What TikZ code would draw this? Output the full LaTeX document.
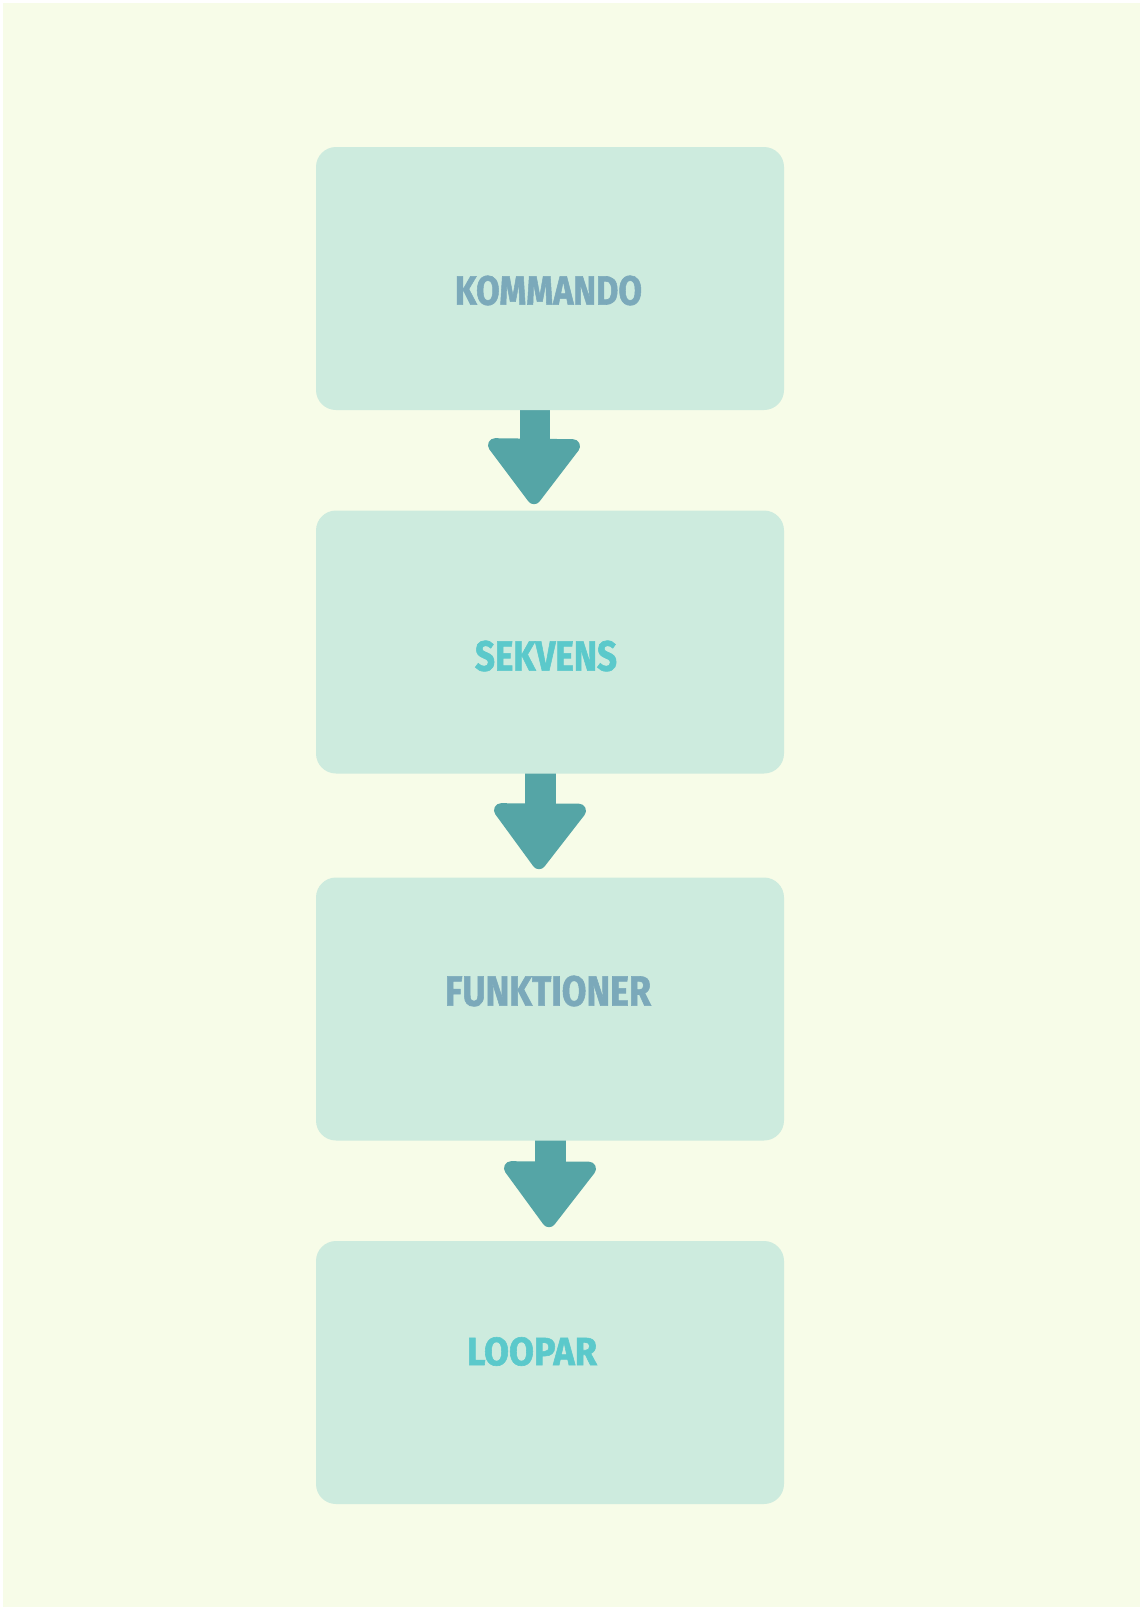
\documentclass[tikz,border=0pt]{standalone}
\usepackage{fontspec}
\setmainfont{Fira Sans}
\newfontfamily\lblfont{Fira Sans}[UprightFont=* Bold, FakeBold=1.5]
\usetikzlibrary{calc}
\definecolor{bgc}{HTML}{F7FCE8}
\definecolor{boxc}{HTML}{CDEBDE}
\definecolor{arrc}{HTML}{55A5A6}
\definecolor{txtA}{HTML}{7BA9BA}
\definecolor{txtB}{HTML}{5BC9CB}
\pgfdeclarelayer{bglayer}
\pgfdeclarelayer{arrlayer}
\pgfsetlayers{bglayer,arrlayer,main}
\tikzset{
  stagebox/.style={fill=boxc, draw=none, rounded corners=20pt, minimum width=468pt, minimum height=263pt, inner sep=0pt},
  arrowshaft/.style={fill=arrc, draw=none},
  arrowhead/.style={fill=arrc, draw=arrc, line width=14pt, line join=round},
  lbl/.style={inner sep=0pt, font=\lblfont}
}
\newcommand\lbltext[3]{\resizebox{#1pt}{#2pt}{#3}}
\begin{document}
\begin{tikzpicture}[x=1pt,y=-1pt]
\useasboundingbox (0,0) rectangle (1140,1607);
\begin{pgfonlayer}{bglayer}
\fill[white] (0,0) rectangle (1140,1607);
\fill[bgc] (3,3) rectangle (1140,1607);
\end{pgfonlayer}
\node[stagebox] (b1) at (550,278.5) {};
\node[stagebox] (b2) at (550,642) {};
\node[stagebox] (b3) at (550,1009) {};
\node[stagebox] (b4) at (550,1372.5) {};
\node[lbl, text=txtA] (t1) at (548.5,290.5) {\lbltext{187}{29}{KOMMANDO}};
\node[lbl, text=txtB] (t2) at (546,656) {\lbltext{142}{30}{SEKVENS}};
\node[lbl, text=txtA] (t3) at (548,991) {\lbltext{206}{30}{FUNKTIONER}};
\node[lbl, text=txtB] (t4) at (532,1351.5) {\lbltext{130}{28}{LOOPAR}};
\begin{pgfonlayer}{arrlayer}
% arrow 1: b1 -> b2
\fill[arrowshaft] ($(b1.south)+(-30,-10)$) rectangle ($(b1.south)+(0,40)$);
\filldraw[arrowhead] ($(b1.south)+(-55,35)$) -- ($(b1.south)+(-16,87)$) -- ($(b1.south)+(23,36)$) -- cycle;
% arrow 2: b2 -> b3
\fill[arrowshaft] ($(b2.south)+(-25,-10)$) rectangle ($(b2.south)+(6,40)$);
\filldraw[arrowhead] ($(b2.south)+(-49,36.5)$) -- ($(b2.south)+(-11,88.5)$) -- ($(b2.south)+(29,37)$) -- cycle;
% arrow 3: b3 -> b4
\fill[arrowshaft] ($(b3.south)+(-15,-10)$) rectangle ($(b3.south)+(16,35)$);
\filldraw[arrowhead] ($(b3.south)+(-39,27.5)$) -- ($(b3.south)+(-1,79.5)$) -- ($(b3.south)+(39,28)$) -- cycle;
\end{pgfonlayer}
\end{tikzpicture}
\end{document}
